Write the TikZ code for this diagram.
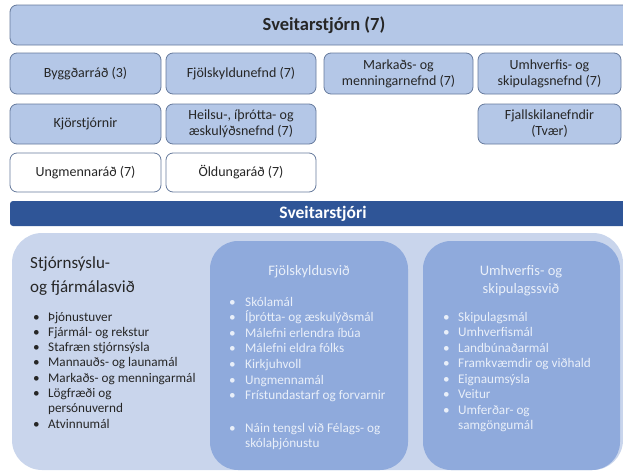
\documentclass[tikz,border=0pt]{standalone}
\usepackage{fontspec}
\setmainfont{Carlito}
\definecolor{boxblue}{HTML}{B4C7E7}
\definecolor{boxedge}{HTML}{667A9C}
\definecolor{darkbar}{HTML}{2F5597}
\definecolor{bgblue}{HTML}{C9D5EC}
\definecolor{innerblue}{HTML}{8FAADC}
\definecolor{txt}{HTML}{262626}
\definecolor{ltxt}{HTML}{E9EFF9}
\tikzset{
  orgbox/.style={draw=boxedge, line width=0.8pt, fill=boxblue, rounded corners=7pt},
  whitebox/.style={orgbox, fill=white},
  lbl/.style={font=\fontsize{14}{16}\selectfont, text=txt, align=center, inner sep=0pt},
  darkitem/.style={font=\fontsize{13.2}{15}\selectfont, text=txt, anchor=base west, inner sep=0pt},
  lightitem/.style={font=\fontsize{13.2}{15}\selectfont, text=ltxt, anchor=base west, inner sep=0pt},
}
\begin{document}
\begin{tikzpicture}[x=1pt,y=-1pt]
\useasboundingbox (0,0) rectangle (623,471);
% top
\draw[orgbox] (10,5) rectangle (640,45);
\node[font=\fontsize{18.5}{20}\selectfont\bfseries, text=txt] (sst) at (324,25) {Sveitarstjórn (7)};
% row 1
\draw[orgbox] (10,53) rectangle (161,94);
\node[lbl] (byg) at (85.5,73.5) {Byggðarráð (3)};
\draw[orgbox] (166,53) rectangle (316,94);
\node[lbl] (fjn) at (241,73.5) {Fjölskyldunefnd (7)};
\draw[orgbox] (324,53) rectangle (473,94);
\node[lbl] (mar) at (398.5,73.5) {Markaðs- og\\menningarnefnd (7)};
\draw[orgbox] (478,53) rectangle (621,94);
\node[lbl] (umh) at (549.5,73.5) {Umhverfis- og\\skipulagsnefnd (7)};
% row 2
\draw[orgbox] (10,104) rectangle (161,144);
\node[lbl] (kjo) at (85.5,124) {Kjörstjórnir};
\draw[orgbox] (166,104) rectangle (316,144);
\node[lbl] (hei) at (241,124) {Heilsu-, íþrótta- og\\æskulýðsnefnd (7)};
\draw[orgbox] (478,104) rectangle (621,144);
\node[lbl] (fja) at (549.5,124) {Fjallskilanefndir\\(Tvær)};
% row 3
\draw[whitebox] (10,153) rectangle (161,192);
\node[lbl] (ung) at (85.5,172.5) {Ungmennaráð (7)};
\draw[whitebox] (166,153) rectangle (316,192);
\node[lbl] (old) at (241,172.5) {Öldungaráð (7)};
% sveitarstjori bar
\fill[darkbar, rounded corners=3pt] (10,201) rectangle (640,226);
\node[font=\fontsize{17.5}{19}\selectfont\bfseries, text=white] (sts) at (323,213.5) {Sveitarstjóri};
% background
\fill[bgblue, rounded corners=30pt] (12,233) rectangle (623,470);
\fill[innerblue, rounded corners=28pt] (210,241) rectangle (408,470);
\fill[innerblue, rounded corners=28pt] (423,241) rectangle (620,470);
% left column
\node[font=\fontsize{17}{24}\selectfont, text=txt, anchor=base west, align=left, inner sep=0pt] (t1) at (30,268) {Stjórnsýslu-};
\node[font=\fontsize{17}{24}\selectfont, text=txt, anchor=base west, inner sep=0pt] (t2) at (30,292) {og fjármálasvið};
\foreach \i/\t in {0/Þjónustuver,1/Fjármál- og rekstur,2/Stafræn stjórnsýsla,3/Mannauðs- og launamál,4/Markaðs- og menningarmál,5/Lögfræði og}{
  \node[darkitem] (lb\i) at (33,321+15.3*\i) {•};
  \node[darkitem] (lt\i) at (48,321+15.3*\i) {\t};
}
\node[darkitem] (lt6) at (48,321+15.3*6) {persónuvernd};
\node[darkitem] (lb7) at (33,321+15.3*7) {•};
\node[darkitem] (lt7) at (48,321+15.3*7) {Atvinnumál};
% middle column
\node[font=\fontsize{14.5}{17}\selectfont, text=ltxt, anchor=base] (t3) at (309,275) {Fjölskyldusvið};
\foreach \i/\t in {0/Skólamál,1/Íþrótta- og æskulýðsmál,2/Málefni erlendra íbúa,3/Málefni eldra fólks,4/Kirkjuhvoll,5/Ungmennamál,6/Frístundastarf og forvarnir}{
  \node[lightitem] (mb\i) at (229,306+15.6*\i) {•};
  \node[lightitem] (mt\i) at (245,306+15.6*\i) {\t};
}
\node[lightitem] (mb7) at (229,432) {•};
\node[lightitem] (mt7) at (245,432) {Náin tengsl við Félags- og};
\node[lightitem] (mt8) at (245,447.5) {skólaþjónustu};
% right column
\node[font=\fontsize{14.5}{17}\selectfont, text=ltxt, anchor=base] (t4) at (521,275) {Umhverfis- og};
\node[font=\fontsize{14.5}{17}\selectfont, text=ltxt, anchor=base] (t5) at (521,293) {skipulagssvið};
\foreach \i/\t in {0/Skipulagsmál,1/Umhverfismál,2/Landbúnaðarmál,3/Framkvæmdir og viðhald,4/Eignaumsýsla,5/Veitur,6/Umferðar- og}{
  \node[lightitem] (rb\i) at (443,321+15.5*\i) {•};
  \node[lightitem] (rt\i) at (458,321+15.5*\i) {\t};
}
\node[lightitem] (rt7) at (458,321+15.5*7) {samgöngumál};
\end{tikzpicture}
\end{document}
